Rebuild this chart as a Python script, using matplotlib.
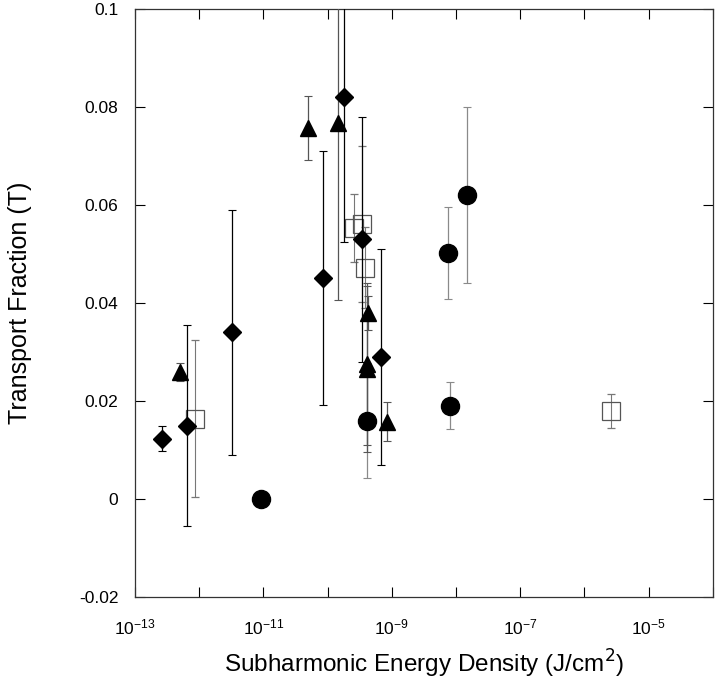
import matplotlib
matplotlib.use("Agg")
import matplotlib.pyplot as plt
from matplotlib.ticker import FixedLocator, FuncFormatter
import numpy as np

plt.rcParams['font.family'] = ['Liberation Sans', 'DejaVu Sans']

# Diamonds
dia_x = [2.6e-13, 6.4e-13, 3.3e-12, 8.4e-11, 1.8e-10, 3.4e-10, 6.8e-10]
dia_y = [0.0123, 0.015, 0.034, 0.0451, 0.082, 0.053, 0.029]
dia_e = [0.0025, 0.0205, 0.025, 0.026, 0.0295, 0.025, 0.022]

# Triangles
tri_x = [5.0e-13, 4.9e-11, 1.45e-10, 4.2e-10, 4.1e-10, 4.1e-10, 8.3e-10]
tri_y = [0.0259, 0.0757, 0.0767, 0.038, 0.0275, 0.0265, 0.0158]
tri_e = [0.0019, 0.0065, 0.036, 0.0035, 0.0165, 0.017, 0.004]

# Circles
cir_x = [9.1e-12, 4.1e-10, 7.6e-9, 8.2e-9, 1.5e-8]
cir_y = [0.0, 0.016, 0.0502, 0.019, 0.062]
cir_e = [0.0, 0.0117, 0.0094, 0.0048, 0.018]

# Open squares
sq_x = [8.6e-13, 2.6e-10, 3.4e-10, 3.8e-10, 2.6e-6]
sq_y = [0.0164, 0.0553, 0.0561, 0.0472, 0.018]
sq_e = [0.016, 0.007, 0.016, 0.0083, 0.0035]

y_ticks = [-0.02, 0, 0.02, 0.04, 0.06, 0.08, 0.1]
y_labels = ['-0.02', '0', '0.02', '0.04', '0.06', '0.08', '0.1']
x_exponents = list(range(-13, -3))
x_label_exponents = [-13, -11, -9, -7, -5]

fig = plt.figure(figsize=(7.2, 6.89), dpi=100)
ax = fig.add_axes([0.1875, 0.1335, 0.8025, 0.8535])
ax.set_xscale('log')

ax.errorbar(sq_x, sq_y, yerr=sq_e, fmt='s', ms=13, mfc='none', mec='#555555',
            mew=0.9, ecolor='#777777', elinewidth=0.8, capsize=3, capthick=0.8, zorder=3)
ax.errorbar(cir_x, cir_y, yerr=cir_e, fmt='o', ms=13, color='black',
            ecolor='#8a8a8a', elinewidth=0.9, capsize=3, capthick=0.8, zorder=4)
ax.errorbar(tri_x, tri_y, yerr=tri_e, fmt='^', ms=12, color='black',
            ecolor='#555555', elinewidth=0.9, capsize=3, capthick=0.8, zorder=4)
ax.errorbar(dia_x, dia_y, yerr=dia_e, fmt='D', ms=9.5, color='black',
            ecolor='black', elinewidth=0.9, capsize=3, capthick=0.8, zorder=5)

ax.set_xlim(1e-13, 1e-4)
ax.set_ylim(-0.02, 0.1)

ax.xaxis.set_major_locator(FixedLocator([10.0 ** e for e in x_exponents]))
ax.xaxis.set_minor_locator(FixedLocator([]))

def xfmt(v, pos):
    e = int(round(np.log10(v)))
    if e in x_label_exponents:
        return r'$\mathregular{10^{%d}}$' % e
    return ''

ax.xaxis.set_major_formatter(FuncFormatter(xfmt))
ax.set_yticks(y_ticks)
ax.set_yticklabels(y_labels)

ax.tick_params(axis='both', which='major', direction='in', length=7, width=0.8,
               top=True, right=True, labelsize=12.5, pad=12)
ax.tick_params(axis='x', pad=15)
for s in ax.spines.values():
    s.set_linewidth(0.9)
    s.set_color('#333333')

ax.set_xlabel('Subharmonic Energy Density (J/cm$^2$)', fontsize=17.5, labelpad=7)
ax.set_ylabel('Transport Fraction (T)', fontsize=18, labelpad=34)

fig.savefig('out.png', dpi=100)
